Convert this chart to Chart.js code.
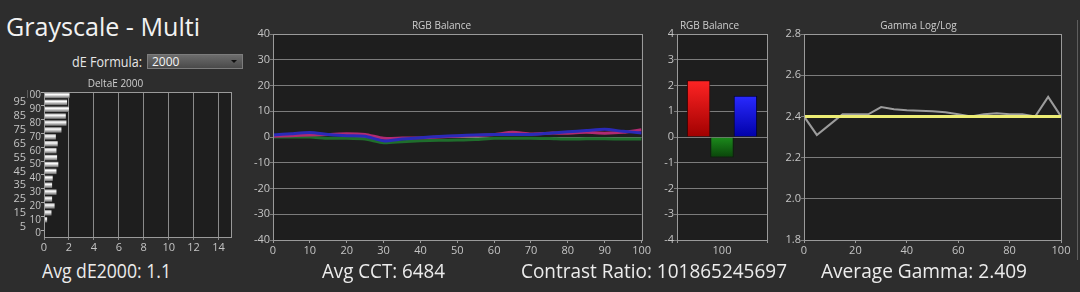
<!DOCTYPE html>
<html>
<head>
<meta charset="utf-8">
<script src="https://cdn.jsdelivr.net/npm/chart.js@4.4.0/dist/chart.umd.min.js"></script>
<style>
  html, body { margin: 0; padding: 0; background: #2d2d2d; }
  body { width: 1080px; height: 292px; position: relative; overflow: hidden; font-family: 'Open Sans', sans-serif; color: #ececec; }
  canvas { position: absolute; }
  .txt { position: absolute; white-space: nowrap; line-height: 1; transform-origin: 0 0; }
  #dropdown { position: absolute; left: 147px; top: 54px; width: 96px; height: 15px; box-sizing: border-box;
    background: linear-gradient(#6c6c6c, #4a4a4a); border: 1px solid #7c7c7c; font-size: 12px; line-height: 13px; padding-left: 4px; color: #f4f4f4; }
  #dropdown:after { content: ''; position: absolute; right: 5px; top: 5px; border-left: 3px solid transparent; border-right: 3px solid transparent; border-top: 3px solid #111; }
  #edge { position: absolute; left: 1077px; top: 20px; width: 1px; height: 240px; background: #5e5e5e; }
</style>
</head>
<body>
<div class="txt" id="title" style="left:6px;top:13px;font-size:26px;color:#f2f2f2;">Grayscale - Multi</div>
<div class="txt" id="formula" style="left:72px;top:55px;font-size:14px;color:#e6e6e6;">dE Formula:</div>
<div id="dropdown">2000</div>
<div id="edge"></div>

<canvas id="deChart" width="240" height="180" style="left:0;top:74px;"></canvas>
<canvas id="balLine" width="412" height="242" style="left:240px;top:18px;"></canvas>
<canvas id="balBar" width="122" height="242" style="left:652px;top:18px;"></canvas>
<canvas id="gammaChart" width="300" height="242" style="left:776px;top:18px;"></canvas>

<div class="txt" id="s1" style="left:42px;top:261px;font-size:20px;">Avg dE2000: 1.1</div>
<div class="txt" id="s2" style="left:322px;top:261px;font-size:20px;">Avg CCT: 6484</div>
<div class="txt" id="s3" style="left:521px;top:261px;font-size:20px;">Contrast Ratio: 101865245697</div>
<div class="txt" id="s4" style="left:821px;top:261px;font-size:20px;">Average Gamma: 2.409</div>

<script>
// DeltaE 2000 per grayscale step (top to bottom)
const deCats = ['100','95','90','85','80','75','70','65','60','55','50','45','40','35','30','25','20','15','10','5','0'];
const deValues = [2.05, 1.85, 2.0, 1.75, 1.8, 1.4, 0.95, 1.1, 1.0, 1.05, 1.15, 1.0, 0.7, 0.65, 1.0, 0.65, 0.85, 0.6, 0.25, 0.05, 0.02];

// RGB balance over the grayscale steps
const levels = [0, 5, 10, 15, 20, 25, 30, 35, 40, 45, 50, 55, 60, 65, 70, 75, 80, 85, 90, 95, 100];
const redBal   = [0.3, 0.5, 0.8, 1.0, 1.3, 1.0, -0.5, -0.4, -0.3, 0.0, 0.3, 0.6, 1.0, 1.8, 1.2, 1.5, 1.5, 1.8, 1.5, 1.8, 2.8];
const greenBal = [0.0, 0.0, 0.0, -0.5, -0.5, -0.8, -2.2, -1.8, -1.5, -1.3, -1.2, -1.0, -0.5, -0.5, -0.5, -0.6, -0.8, -0.7, -0.7, -0.8, -0.8];
const blueBal  = [0.8, 1.3, 1.7, 1.0, 0.5, 0.3, -1.5, -0.8, -0.3, 0.2, 0.5, 0.8, 1.0, 1.0, 1.0, 1.5, 2.0, 2.5, 3.0, 2.2, 1.6];

// RGB balance at 100%
const barCats = ['100'];
const barRed = [2.2];
const barGreen = [-0.8];
const barBlue = [1.6];

// gamma
const gammaVals   = [2.40, 2.31, 2.36, 2.41, 2.41, 2.41, 2.445, 2.435, 2.43, 2.428, 2.425, 2.42, 2.41, 2.40, 2.41, 2.415, 2.41, 2.41, 2.40, 2.495, 2.40];
const gammaTarget = [2.4, 2.4, 2.4, 2.4, 2.4, 2.4, 2.4, 2.4, 2.4, 2.4, 2.4, 2.4, 2.4, 2.4, 2.4, 2.4, 2.4, 2.4, 2.4, 2.4, 2.4];

Chart.defaults.font.family = "'Open Sans', sans-serif";
Chart.defaults.font.size = 10;
Chart.defaults.color = '#c4c4c4';
Chart.defaults.animation = false;
Chart.defaults.plugins.legend.display = false;
Chart.defaults.plugins.tooltip.enabled = false;

const plotBox = {
    id: 'plotBox',
    beforeDraw(chart) {
        const a = chart.chartArea;
        const ctx = chart.ctx;
        ctx.save();
        ctx.fillStyle = '#1e1e1e';
        ctx.fillRect(a.left, a.top, a.width, a.height);
        ctx.restore();
    },
    afterDraw(chart) {
        const a = chart.chartArea;
        const ctx = chart.ctx;
        ctx.save();
        ctx.strokeStyle = '#9a9a9a';
        ctx.lineWidth = 1;
        ctx.strokeRect(Math.round(a.left) + 0.5, Math.round(a.top) + 0.5, Math.round(a.width), Math.round(a.height));
        ctx.restore();
    }
};

const titleOpts = (text) => ({
    display: true, text: text, color: '#cfcfcf',
    font: { size: 10, weight: 'normal' },
    padding: { top: 2, bottom: 2 }
});

// --- DeltaE 2000 horizontal bars
new Chart(document.getElementById('deChart'), {
    type: 'bar',
    data: {
        labels: deCats,
        datasets: [{
            data: deValues,
            backgroundColor: c => {
                const ch = c.chart;
                if (!ch.chartArea) return '#cccccc';
                const y = ch.scales.y.getPixelForValue(c.dataIndex);
                const g = ch.ctx.createLinearGradient(0, y - 3, 0, y + 3);
                g.addColorStop(0, '#8c8c8c');
                g.addColorStop(0.35, '#ffffff');
                g.addColorStop(1, '#5c5c5c');
                return g;
            },
            barPercentage: 0.8,
            categoryPercentage: 1
        }]
    },
    options: {
        indexAxis: 'y',
        responsive: false,
        devicePixelRatio: 1,
        layout: { padding: { right: 9 } },
        plugins: { title: Object.assign(titleOpts('DeltaE 2000'), { padding: { top: 4, bottom: 2 } }) },
        scales: {
            x: {
                type: 'linear', min: 0, max: 15,
                ticks: { stepSize: 2, includeBounds: false, padding: 1, font: { size: 11 } },
                grid: { color: '#8a8a8a', tickLength: 3 },
                border: { color: '#9a9a9a' },
                afterFit: s => { s.height = 17; }
            },
            y: {
                type: 'category',
                ticks: { autoSkip: false, padding: 0, font: { size: 10 }, callback: (v, i) => i % 2 === 0 ? deCats[i] : '' },
                grid: { drawOnChartArea: false, tickLength: 3, color: c => c.index % 2 === 0 ? '#aaaaaa' : 'rgba(0,0,0,0)' },
                border: { color: '#9a9a9a' },
                afterFit: s => { s.width = 17; }
            },
            y2: {
                type: 'category', position: 'left', weight: 1, labels: deCats,
                ticks: { autoSkip: false, padding: 1, font: { size: 11 }, callback: (v, i) => i % 2 === 1 ? deCats[i] : '' },
                grid: { display: false, drawTicks: false, tickLength: 0 },
                border: { display: false },
                afterFit: s => { s.width = 27; }
            }
        }
    },
    plugins: [plotBox]
});

// --- RGB balance lines
const pts = vals => levels.map((x, i) => ({ x: x, y: vals[i] }));
new Chart(document.getElementById('balLine'), {
    type: 'line',
    data: {
        datasets: [
            { data: pts(blueBal), borderColor: '#2a2ab8', borderWidth: 3, pointRadius: 0, tension: 0.2 },
            { data: pts(redBal), borderColor: '#b02a72', borderWidth: 3, pointRadius: 0, tension: 0.2 },
            { data: pts(greenBal), borderColor: '#1f6e2c', borderWidth: 3, pointRadius: 0, tension: 0.2 }
        ]
    },
    options: {
        responsive: false,
        devicePixelRatio: 1,
        layout: { padding: { right: 9 } },
        plugins: { title: titleOpts('RGB Balance') },
        scales: {
            x: {
                type: 'linear', min: 0, max: 100,
                ticks: { stepSize: 10, padding: 1, font: { size: 11 } },
                grid: { drawOnChartArea: false, tickLength: 3, color: '#9a9a9a' },
                border: { color: '#9a9a9a' },
                afterFit: s => { s.height = 20; }
            },
            y: {
                min: -40, max: 40,
                ticks: { stepSize: 10, padding: 0, font: { size: 11 } },
                grid: { color: '#7c7c7c', tickLength: 3 },
                border: { color: '#9a9a9a' },
                afterFit: s => { s.width = 33; }
            }
        }
    },
    plugins: [plotBox]
});

// --- RGB balance bars at 100%
const barFill = (top, bottom) => c => {
    const ch = c.chart;
    if (!ch.chartArea) return top;
    const y0 = ch.scales.y.getPixelForValue(0);
    const y1 = ch.scales.y.getPixelForValue(c.raw);
    const g = ch.ctx.createLinearGradient(0, Math.min(y0, y1), 0, Math.max(y0, y1));
    g.addColorStop(0, top);
    g.addColorStop(1, bottom);
    return g;
};
new Chart(document.getElementById('balBar'), {
    type: 'bar',
    data: {
        labels: barCats,
        datasets: [
            { data: barRed, backgroundColor: barFill('#ff2424', '#a00000'), borderColor: '#3a0000', borderWidth: 1 },
            { data: barGreen, backgroundColor: barFill('#1c8c1c', '#0a440a'), borderColor: '#062406', borderWidth: 1 },
            { data: barBlue, backgroundColor: barFill('#2a2aff', '#0000a8'), borderColor: '#00003a', borderWidth: 1 }
        ]
    },
    options: {
        responsive: false,
        devicePixelRatio: 1,
        layout: { padding: { right: 7 } },
        plugins: { title: titleOpts('RGB Balance') },
        datasets: { bar: { barPercentage: 1, categoryPercentage: 0.78 } },
        scales: {
            x: {
                ticks: { padding: 1, font: { size: 11 } },
                grid: { drawOnChartArea: false, tickLength: 3, color: '#9a9a9a' },
                border: { color: '#9a9a9a' },
                afterFit: s => { s.height = 20; }
            },
            y: {
                min: -4, max: 4,
                ticks: { stepSize: 1, padding: 0, font: { size: 11 } },
                grid: { color: '#7c7c7c', tickLength: 3 },
                border: { color: '#9a9a9a' },
                afterFit: s => { s.width = 25; }
            }
        }
    },
    plugins: [plotBox]
});

// --- Gamma log/log
new Chart(document.getElementById('gammaChart'), {
    type: 'line',
    data: {
        datasets: [
            { data: pts(gammaTarget), borderColor: '#ecec74', borderWidth: 3, pointRadius: 0 },
            { data: pts(gammaVals), borderColor: '#9c9c9c', borderWidth: 2, pointRadius: 0 }
        ]
    },
    options: {
        responsive: false,
        devicePixelRatio: 1,
        layout: { padding: { right: 15 } },
        plugins: { title: titleOpts('Gamma Log/Log') },
        scales: {
            x: {
                type: 'linear', min: 0, max: 100,
                ticks: { stepSize: 20, padding: 1, font: { size: 11 } },
                grid: { drawOnChartArea: false, tickLength: 3, color: '#9a9a9a' },
                border: { color: '#9a9a9a' },
                afterFit: s => { s.height = 20; }
            },
            y: {
                min: 1.8, max: 2.8,
                ticks: { stepSize: 0.2, padding: 0, font: { size: 11 } },
                grid: { color: '#7c7c7c', tickLength: 3 },
                border: { color: '#9a9a9a' },
                afterFit: s => { s.width = 28; }
            }
        }
    },
    plugins: [plotBox]
});

// squeeze the text to the widths seen in the screenshot
function fitText(id, w) {
    const el = document.getElementById(id);
    const r = el.getBoundingClientRect();
    el.style.transform = 'scaleX(' + (w / r.width) + ')';
}
fitText('title', 194);
fitText('formula', 70);
fitText('s1', 129);
fitText('s2', 123);
fitText('s3', 266);
fitText('s4', 206);
</script>
</body>
</html>
